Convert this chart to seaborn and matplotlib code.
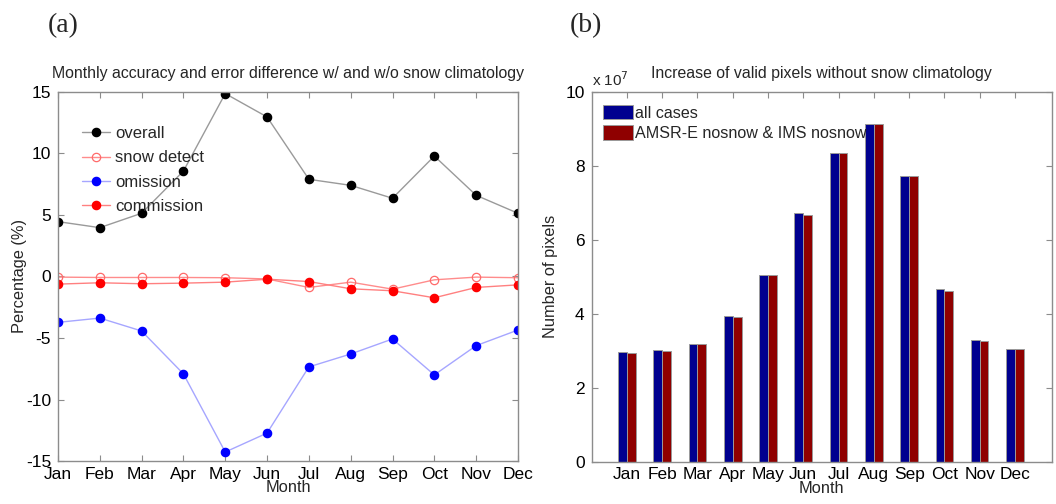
import numpy as np
import pandas as pd
import matplotlib
matplotlib.use("Agg")
import matplotlib.pyplot as plt
import seaborn as sns
from matplotlib.patches import Patch
from matplotlib.lines import Line2D

months = ["Jan", "Feb", "Mar", "Apr", "May", "Jun",
          "Jul", "Aug", "Sep", "Oct", "Nov", "Dec"]

# Differences (%) with vs. without snow climatology
overall = [4.46, 3.97, 5.14, 8.57, 14.87, 12.97, 7.90, 7.41, 6.36, 9.79, 6.60, 5.14]
snow_detect = [-0.05, -0.08, -0.08, -0.08, -0.10, -0.20, -0.89, -0.46, -1.03, -0.27, -0.05, -0.10]
omission = [-3.73, -3.38, -4.43, -7.92, -14.27, -12.73, -7.35, -6.30, -5.08, -8.00, -5.62, -4.35]
commission = [-0.62, -0.51, -0.59, -0.54, -0.46, -0.22, -0.41, -1.00, -1.16, -1.73, -0.89, -0.68]

# Increase of valid pixels without snow climatology
all_cases = [2.97e7, 3.02e7, 3.18e7, 3.95e7, 5.06e7, 6.72e7,
             8.35e7, 9.14e7, 7.74e7, 4.66e7, 3.28e7, 3.04e7]
nosnow_both = [2.95e7, 3.00e7, 3.18e7, 3.92e7, 5.05e7, 6.68e7,
               8.35e7, 9.14e7, 7.72e7, 4.63e7, 3.25e7, 3.04e7]

sns.set_theme(style="white")
plt.rcParams["font.family"] = ["Liberation Sans", "DejaVu Sans"]
plt.rcParams["axes.edgecolor"] = "#8c8c8c"
plt.rcParams["axes.linewidth"] = 1.0
plt.rcParams["axes.unicode_minus"] = False

fig = plt.figure(figsize=(10.56, 5.04), dpi=100)
ax1 = fig.add_axes([0.0549, 0.0853, 0.4356, 0.7322])
ax2 = fig.add_axes([0.5603, 0.0843, 0.4359, 0.7327])

FS_TICK = 12.5
FS_LAB = 11.8
FS_LEG = 12
FS_TITLE = 11.4

# ---- (a) line chart ----
x = np.arange(1, 13)
line_specs = [
    ("overall", overall, dict(color="#9a9a9a", markerfacecolor="black", markeredgecolor="black")),
    ("snow detect", snow_detect, dict(color="#ff8c8c", markerfacecolor="none", markeredgecolor="#ff6a6a")),
    ("omission", omission, dict(color="#a6a6ff", markerfacecolor="#0000ff", markeredgecolor="#0000ff")),
    ("commission", commission, dict(color="#ff8080", markerfacecolor="#ff0000", markeredgecolor="#ff0000")),
]
handles = []
for label, vals, style in line_specs:
    sns.lineplot(x=x, y=vals, ax=ax1, marker="o", markersize=6, linewidth=1.0,
                 markeredgewidth=0.9, **style)
    handles.append(Line2D([], [], marker="o", markersize=6, linewidth=1.0,
                          markeredgewidth=0.9, label=label, **style))

ax1.set_xlim(1, 12)
ax1.set_ylim(-15, 15)
ax1.set_xticks(x)
ax1.set_xticklabels(months)
ax1.set_yticks(np.arange(-15, 16, 5))
ax1.set_xlabel("Month", fontsize=FS_LAB, labelpad=-1)
ax1.set_ylabel("Percentage (%)", fontsize=FS_LAB, labelpad=-1)
ax1.set_title("Monthly accuracy and error difference w/ and w/o snow climatology",
              fontsize=FS_TITLE, pad=10)
ax1.legend(handles=handles, loc="upper left", bbox_to_anchor=(0.037, 0.925),
           frameon=False, fontsize=FS_LEG, handlelength=1.7, handletextpad=0.3,
           labelspacing=0.55, borderaxespad=0)

# ---- (b) grouped bar chart ----
df = pd.DataFrame({
    "Month": months * 2,
    "pixels": all_cases + nosnow_both,
    "group": ["all cases"] * 12 + ["AMSR-E nosnow & IMS nosnow"] * 12,
})
bar_colors = ["#00008f", "#8f0000"]
sns.barplot(data=df, x="Month", y="pixels", hue="group", ax=ax2,
            palette=bar_colors, width=0.5, edgecolor="#9a9a9a", linewidth=0.7,
            saturation=1, legend=False)
ax2.set_xlim(-1, 12.05)
ax2.set_ylim(0, 1e8)
ax2.set_yticks(np.arange(0, 1.01e8, 2e7))
ax2.set_yticklabels([f"{v:g}" for v in np.arange(0, 11, 2)])
ax2.set_xlabel("Month", fontsize=FS_LAB, labelpad=-1)
ax2.set_ylabel("Number of pixels", fontsize=FS_LAB, labelpad=5)
ax2.set_title("Increase of valid pixels without snow climatology",
              fontsize=FS_TITLE, pad=10)
ax2.text(0.0, 1.008, r"x 10$^{7}$", transform=ax2.transAxes, fontsize=11,
         ha="left", va="bottom")
bar_handles = [Patch(facecolor=c, edgecolor="#9a9a9a", linewidth=0.7, label=l)
               for c, l in zip(bar_colors, ["all cases", "AMSR-E nosnow & IMS nosnow"])]
ax2.legend(handles=bar_handles, loc="upper left", bbox_to_anchor=(0.01, 0.983),
           frameon=False, fontsize=11.6, handlelength=1.85, handleheight=1.0,
           handletextpad=0.15, labelspacing=0.28, borderaxespad=0)

for ax in (ax1, ax2):
    ax.tick_params(axis="both", which="both", direction="in", length=4, width=0.8,
                   color="#8c8c8c", labelsize=FS_TICK, labelcolor="black",
                   top=True, right=True, bottom=True, left=True)
    ax.tick_params(axis="x", pad=4)
    ax.tick_params(axis="y", pad=5)
    for sp in ax.spines.values():
        sp.set_visible(True)
        sp.set_color("#8c8c8c")

serif = ["Liberation Serif", "DejaVu Serif"]
fig.text(0.060, 0.95, "(a)", fontsize=20, family=serif, ha="center", va="center")
fig.text(0.555, 0.95, "(b)", fontsize=20, family=serif, ha="center", va="center")

fig.savefig("out.png", dpi=100)
